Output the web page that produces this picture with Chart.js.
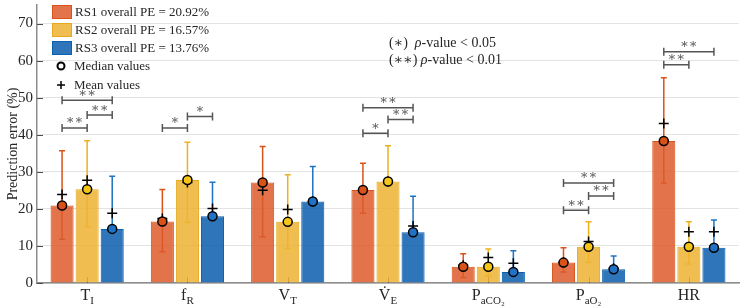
<!DOCTYPE html>
<html>
<head>
<meta charset="utf-8">
<script src="https://cdn.jsdelivr.net/npm/chart.js@4"></script>
<style>
  html, body { margin: 0; padding: 0; background: #fff; }
  #chart { display: block; }
</style>
</head>
<body>
<canvas id="chart" width="743" height="307"></canvas>
<script>
// categories (main letter + subscript)
const catMain = ["T", "f", "V", "V\u0307", "P", "P", "HR"];
const catSub = ["I", "R", "T", "E", "aCO\u2082", "aO\u2082", ""];

// bar heights = median values
const rs1Median = [20.9, 16.6, 27.1, 25.1, 4.4, 5.5, 38.3];
const rs2Median = [25.3, 27.8, 16.5, 27.4, 4.4, 9.8, 9.8];
const rs3Median = [14.6, 18.0, 22.0, 13.7, 3.0, 3.7, 9.5];

const rs1Mean = [23.9, 17.4, 25.0, 25.1, 4.8, 5.6, 43.0];
const rs2Mean = [27.7, 27.1, 19.8, 27.4, 6.9, 11.2, 13.8];
const rs3Mean = [18.8, 20.1, 22.0, 15.4, 5.3, 4.0, 13.8];

const rs1Low = [11.8, 8.4, 12.5, 18.8, 1.5, 3.0, 27.0];
const rs1High = [35.7, 25.2, 36.8, 32.3, 7.9, 9.5, 55.4];
const rs2Low = [15.2, 16.4, 9.3, 27.4, 1.8, 5.5, 5.1];
const rs2High = [38.4, 38.0, 29.2, 37.0, 9.2, 16.5, 16.5];
const rs3Low = [14.6, 18.0, 22.0, 13.7, 3.0, 3.7, 9.5];
const rs3High = [28.8, 27.2, 31.4, 23.4, 8.7, 7.3, 17.0];

const seriesNames = ["RS1 overall PE = 20.92%", "RS2 overall PE = 16.57%", "RS3 overall PE = 13.76%"];

// significance brackets
const sigCat = [0, 0, 0, 1, 1, 3, 3, 3, 5, 5, 5, 6, 6];
const sigFrom = [0, 1, 0, 0, 1, 0, 1, 0, 0, 1, 0, 0, 0];
const sigTo = [1, 2, 2, 1, 2, 1, 2, 2, 1, 2, 2, 1, 2];
const sigY = [41.8, 45.3, 49.3, 41.8, 44.9, 40.4, 44.1, 47.3, 19.6, 23.5, 27.0, 58.9, 62.4];
const sigStars = ["**", "**", "**", "*", "*", "*", "**", "**", "**", "**", "**", "**", "**"];

const fillColors = ["rgba(221, 91, 42, 0.85)", "rgba(237, 179, 49, 0.85)", "rgba(9, 93, 174, 0.85)"];
const edgeColors = ["#D95319", "#E6A91E", "#0A5FAE"];
const whiskerColors = ["#D95319", "#EDB120", "#1F72C4"];

const serif = "'Liberation Serif', 'DejaVu Serif', serif";

const lows = [rs1Low, rs2Low, rs3Low];
const highs = [rs1High, rs2High, rs3High];
const means = [rs1Mean, rs2Mean, rs3Mean];
const medians = [rs1Median, rs2Median, rs3Median];

// error bars and inner tick marks, behind the bars
const whiskerPlugin = {
  id: "whiskers",
  beforeDatasetsDraw(chart) {
    const ctx = chart.ctx;
    const y = chart.scales.y;
    const x = chart.scales.x;
    const area = chart.chartArea;
    ctx.save();

    ctx.strokeStyle = "#4d4d4d";
    ctx.lineWidth = 1;
    ctx.beginPath();
    y.ticks.forEach((t) => {
      const py = Math.round(y.getPixelForValue(t.value)) + 0.5;
      ctx.moveTo(area.left, py);
      ctx.lineTo(area.left + 6, py);
    });
    catMain.forEach((c, i) => {
      const px = Math.round(x.getPixelForValue(i)) + 0.5;
      ctx.moveTo(px, area.bottom);
      ctx.lineTo(px, area.bottom - 6);
    });
    ctx.stroke();

    ctx.lineWidth = 1.5;
    for (let s = 0; s < 3; s++) {
      const meta = chart.getDatasetMeta(s);
      ctx.strokeStyle = whiskerColors[s];
      meta.data.forEach((bar, i) => {
        const yl = y.getPixelForValue(lows[s][i]);
        const yh = y.getPixelForValue(highs[s][i]);
        ctx.beginPath();
        ctx.moveTo(bar.x, yl);
        ctx.lineTo(bar.x, yh);
        ctx.moveTo(bar.x - 3, yl);
        ctx.lineTo(bar.x + 3, yl);
        ctx.moveTo(bar.x - 3, yh);
        ctx.lineTo(bar.x + 3, yh);
        ctx.stroke();
      });
    }
    ctx.restore();
  },
};

const overlayPlugin = {
  id: "overlay",
  afterDatasetsDraw(chart) {
    const ctx = chart.ctx;
    const y = chart.scales.y;
    const x = chart.scales.x;
    ctx.save();

    // mean (+) and median (o) markers
    for (let s = 0; s < 3; s++) {
      const meta = chart.getDatasetMeta(s);
      meta.data.forEach((bar, i) => {
        const ym = y.getPixelForValue(means[s][i]);
        ctx.strokeStyle = "#000";
        ctx.lineWidth = 1.5;
        ctx.beginPath();
        ctx.moveTo(bar.x - 5, ym);
        ctx.lineTo(bar.x + 5, ym);
        ctx.moveTo(bar.x, ym - 5);
        ctx.lineTo(bar.x, ym + 5);
        ctx.stroke();

        const yd = y.getPixelForValue(medians[s][i]);
        ctx.beginPath();
        ctx.arc(bar.x, yd, 4.5, 0, Math.PI * 2);
        ctx.fillStyle = s === 1 ? "#F5C518" : whiskerColors[s];
        ctx.fill();
        ctx.stroke();
      });
    }

    // significance brackets
    ctx.strokeStyle = "#555";
    ctx.fillStyle = "#555";
    ctx.lineWidth = 1.5;
    ctx.font = "13px " + serif;
    ctx.textAlign = "center";
    ctx.textBaseline = "middle";
    sigCat.forEach((c, k) => {
      const x1 = chart.getDatasetMeta(sigFrom[k]).data[c].x;
      const x2 = chart.getDatasetMeta(sigTo[k]).data[c].x;
      const yy = y.getPixelForValue(sigY[k]);
      ctx.beginPath();
      ctx.moveTo(x1, yy);
      ctx.lineTo(x2, yy);
      ctx.moveTo(x1, yy - 4);
      ctx.lineTo(x1, yy + 4);
      ctx.moveTo(x2, yy - 4);
      ctx.lineTo(x2, yy + 4);
      ctx.stroke();
      ctx.fillText(sigStars[k].replace(/\*/g, "\u2217"), (x1 + x2) / 2, yy - 7);
    });

    // x labels with subscripts
    ctx.fillStyle = "#262626";
    ctx.textBaseline = "alphabetic";
    catMain.forEach((m, i) => {
      const cx = x.getPixelForValue(i);
      ctx.font = "16px " + serif;
      const wm = ctx.measureText(m).width;
      ctx.font = "11px " + serif;
      const ws = ctx.measureText(catSub[i]).width;
      const left = cx - (wm + ws) / 2;
      ctx.textAlign = "left";
      ctx.font = "16px " + serif;
      ctx.fillText(m, left, 300);
      ctx.font = "11px " + serif;
      ctx.fillText(catSub[i], left + wm, 304);
    });

    // y axis title
    ctx.save();
    ctx.translate(13, (chart.chartArea.top + chart.chartArea.bottom) / 2);
    ctx.rotate(-Math.PI / 2);
    ctx.textAlign = "center";
    ctx.textBaseline = "middle";
    ctx.font = "14px " + serif;
    ctx.fillText("Prediction error (%)", 0, 0);
    ctx.restore();

    // legend
    ctx.textAlign = "left";
    ctx.textBaseline = "middle";
    ctx.font = "13px " + serif;
    const rows = [12, 30, 48];
    for (let s = 0; s < 3; s++) {
      ctx.fillStyle = fillColors[s];
      ctx.fillRect(52, rows[s] - 7, 20, 14);
      ctx.strokeStyle = edgeColors[s];
      ctx.lineWidth = 1;
      ctx.strokeRect(52.5, rows[s] - 6.5, 19, 13);
      ctx.fillStyle = "#262626";
      ctx.fillText(seriesNames[s], 75, rows[s] + 1);
    }
    ctx.strokeStyle = "#000";
    ctx.lineWidth = 2;
    ctx.beginPath();
    ctx.arc(61, 66, 3.5, 0, Math.PI * 2);
    ctx.stroke();
    ctx.lineWidth = 1.5;
    ctx.beginPath();
    ctx.moveTo(57, 85);
    ctx.lineTo(65, 85);
    ctx.moveTo(61, 81);
    ctx.lineTo(61, 89);
    ctx.stroke();
    ctx.fillStyle = "#262626";
    ctx.fillText("Median values", 74, 67);
    ctx.fillText("Mean values", 74, 86);

    // p-value note
    const notes = [["(\u2217)  ", 43, "0.05"], ["(\u2217\u2217) ", 60, "0.01"]];
    notes.forEach(([pre, yy, v]) => {
      let xx = 389;
      ctx.font = "14px " + serif;
      ctx.fillText(pre, xx, yy);
      xx += ctx.measureText(pre).width;
      ctx.font = "italic 14px " + serif;
      ctx.fillText("\u03C1", xx, yy);
      xx += ctx.measureText("\u03C1").width;
      ctx.font = "14px " + serif;
      ctx.fillText("-value < " + v, xx, yy);
    });

    ctx.restore();
  },
};

new Chart(document.getElementById("chart").getContext("2d"), {
  type: "bar",
  data: {
    labels: catMain,
    datasets: [0, 1, 2].map((s) => ({
      label: seriesNames[s],
      data: medians[s],
      backgroundColor: fillColors[s],
      borderColor: edgeColors[s],
      borderWidth: 1,
      categoryPercentage: 0.75,
      barPercentage: 0.92,
    })),
  },
  options: {
    responsive: false,
    animation: false,
    layout: { padding: { top: 5, right: 4, left: 0, bottom: 0 } },
    plugins: {
      legend: { display: false },
      tooltip: { enabled: false },
    },
    scales: {
      x: {
        grid: { display: false, drawTicks: false },
        border: { color: "#8c8c8c", width: 1.5 },
        ticks: { display: false },
        afterFit(scale) {
          scale.height = 24;
          scale.paddingLeft = 0;
          scale.paddingRight = 0;
        },
      },
      y: {
        min: 0,
        max: 75,
        grid: { color: "#e3e3e3", drawTicks: false },
        border: { color: "#8c8c8c", width: 1.5 },
        ticks: {
          stepSize: 10,
          padding: 4,
          color: "#262626",
          font: { family: serif, size: 15 },
        },
        afterBuildTicks(scale) {
          scale.ticks = scale.ticks.filter((t) => t.value % 10 === 0);
        },
        afterFit(scale) {
          scale.width = 37;
          scale.paddingTop = 0;
          scale.paddingBottom = 0;
        },
      },
    },
  },
  plugins: [whiskerPlugin, overlayPlugin],
});
</script>
</body>
</html>
